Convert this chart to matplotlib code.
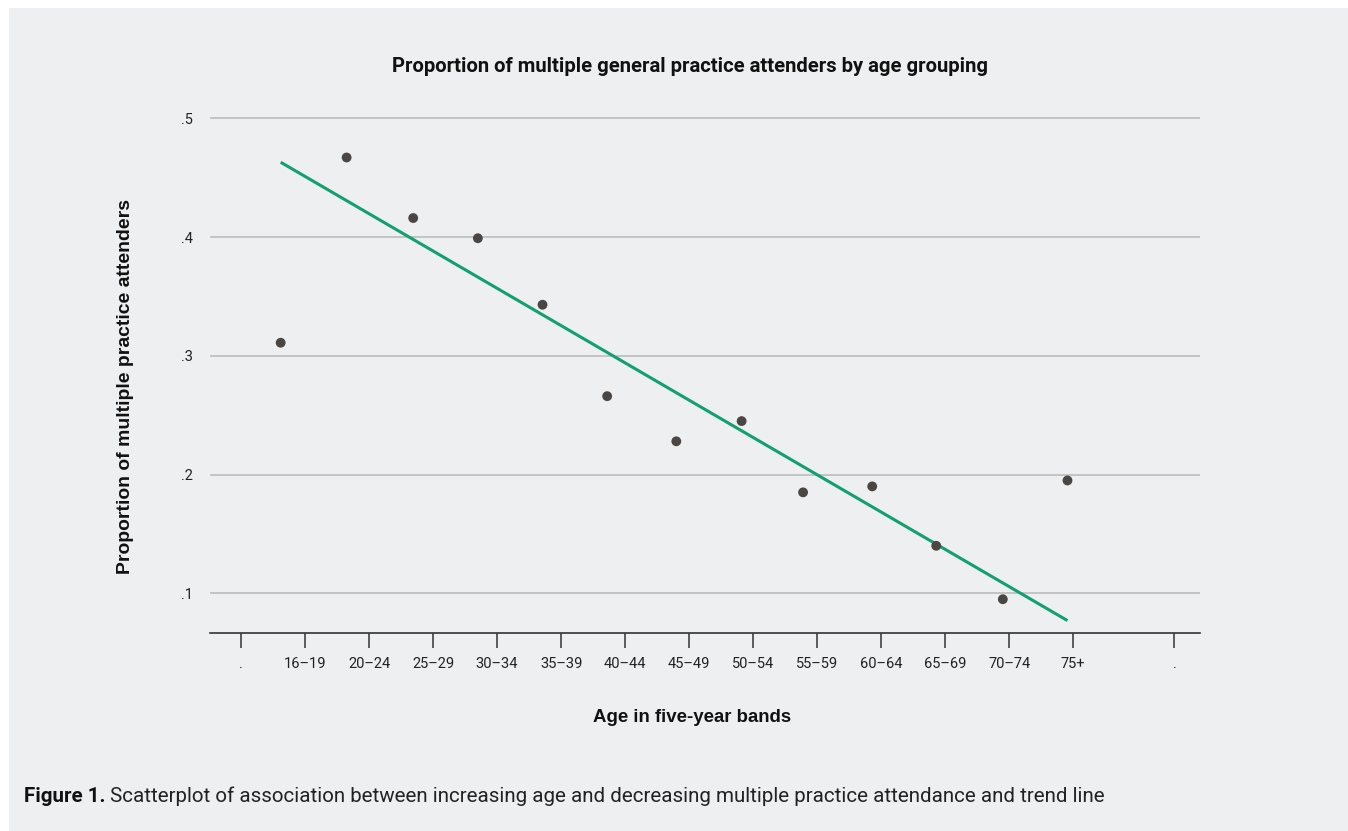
import matplotlib
matplotlib.use('Agg')
import matplotlib.pyplot as plt
from matplotlib.patches import Rectangle

# ---- data ----
band_labels = ['.', '16–19', '20–24', '25–29', '30–34', '35–39', '40–44', '45–49',
               '50–54', '55–59', '60–64', '65–69', '70–74', '75+', '.']
band_ticks = [0, 1, 2, 3, 4, 5, 6, 7, 8, 9, 10, 11, 12, 13, 14.58]
point_x = [0.62, 1.65, 2.69, 3.70, 4.71, 5.72, 6.80, 7.82, 8.78, 9.86, 10.86, 11.90, 12.91]
proportion = [0.311, 0.467, 0.416, 0.399, 0.343, 0.266, 0.228, 0.245, 0.185, 0.190,
              0.140, 0.095, 0.195]
trend_x = [0.62, 12.91]
trend_y = [0.463, 0.077]
y_ticks = [0.1, 0.2, 0.3, 0.4, 0.5]
y_labels = ['.1', '.2', '.3', '.4', '.5']

W, H = 1348, 831
fig = plt.figure(figsize=(W / 100, H / 100), dpi=100, facecolor='white')
BG = '#eeeff1'
fig.patches.append(Rectangle((9 / W, 0), 1 - 9 / W, 1 - 8 / H, transform=fig.transFigure,
                             facecolor=BG, edgecolor='none', zorder=-10))

ylo, yhi = 0.0663, 0.505
px_per = 1187.5
top_px = 118.3 - (yhi - 0.5) * px_per
bot_px = 633.3
ax = fig.add_axes([210 / W, 1 - bot_px / H, 990 / W, (bot_px - top_px) / H])
ax.set_facecolor('none')
ax.set_xlim(-0.484, 14.98)
ax.set_ylim(ylo, yhi)

for s in ['top', 'right', 'left']:
    ax.spines[s].set_visible(False)
ax.spines['bottom'].set_color('#333333')
ax.spines['bottom'].set_linewidth(1.2)

ax.set_yticks(y_ticks)
ax.set_yticklabels(y_labels)
ax.yaxis.grid(True, color='#b8b8b8', linewidth=1.1)
ax.set_axisbelow(True)
ax.tick_params(axis='y', length=0, pad=12, labelsize=10.5, labelcolor='#222222')

ax.set_xticks(band_ticks)
ax.set_xticklabels(band_labels)
ax.tick_params(axis='x', length=10.8, width=1.1, color='#333333', pad=6,
               labelsize=10.5, labelcolor='#222222')
for lab in ax.get_xticklabels() + ax.get_yticklabels():
    lab.set_family(['Roboto', 'DejaVu Sans'])

ax.plot(trend_x, trend_y, color='#11a06e', linewidth=2.2, solid_capstyle='butt', zorder=3)
ax.scatter(point_x, proportion, s=50, color='#4a4644', edgecolors='none', zorder=4)

title = fig.text(690 / W, 1 - 67 / H, 'Proportion of multiple general practice attenders by age grouping',
                 ha='center', va='center', fontsize=12, fontweight='bold',
                 family=['Roboto', 'DejaVu Sans'], color='#111111')
xlab = fig.text(692 / W, 1 - 718 / H, 'Age in five-year bands', ha='center', va='center',
                fontsize=11, fontweight='bold', family=['Liberation Sans', 'DejaVu Sans'],
                color='#111111')
ylab = fig.text(126 / W, 1 - 387 / H, 'Proportion of multiple practice attenders', ha='center',
                va='center', rotation=90, fontsize=11, fontweight='bold',
                family=['Liberation Sans', 'DejaVu Sans'], color='#111111')
cap1 = fig.text(24 / W, 1 - 796 / H, 'Figure 1.', ha='left', va='center', fontsize=12,
                fontweight='bold', family=['Roboto', 'DejaVu Sans'], color='#111111')
cap2 = fig.text(0, 1 - 796 / H, ' Scatterplot of association between increasing age and decreasing multiple practice attendance and trend line',
                ha='left', va='center', fontsize=12, family=['Roboto', 'DejaVu Sans'],
                color='#222222')

fig.canvas.draw()
r = fig.canvas.get_renderer()

def fit_w(t, target):
    bb = t.get_window_extent(r)
    t.set_fontsize(t.get_fontsize() * target / bb.width)

def fit_h(t, target):
    bb = t.get_window_extent(r)
    t.set_fontsize(t.get_fontsize() * target / bb.height)

fit_w(title, 594)
fit_w(xlab, 200)
fit_h(ylab, 375)
# caption: total width from 24 to ~1102
fig.canvas.draw()
cap2.set_fontsize(cap1.get_fontsize())
b1 = cap1.get_window_extent(r)
cap2.set_x(b1.x1 / W)
fig.canvas.draw()
b2 = cap2.get_window_extent(r)
total = b2.x1 - b1.x0
scale = (1102 - 24) / total
cap1.set_fontsize(cap1.get_fontsize() * scale)
cap2.set_fontsize(cap2.get_fontsize() * scale)
fig.canvas.draw()
b1 = cap1.get_window_extent(r)
cap2.set_x(b1.x1 / W)

fig.savefig('out.png', dpi=100, facecolor='white')
